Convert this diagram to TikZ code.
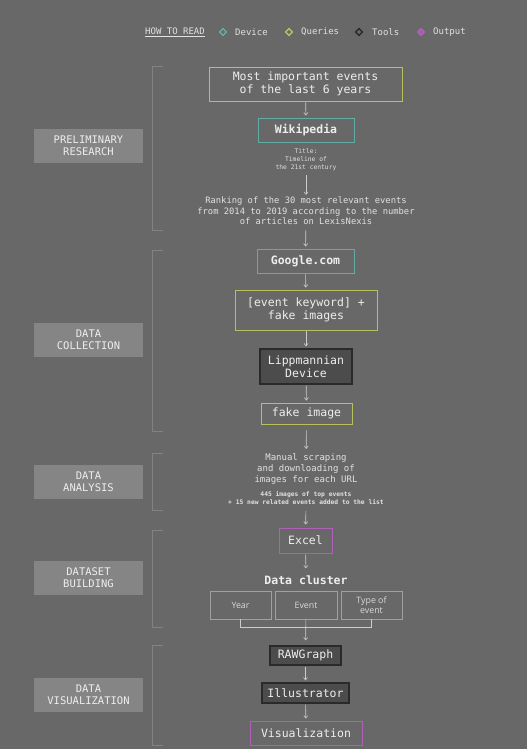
\documentclass[tikz,border=0pt]{standalone}
\usepackage{fontspec}
\usetikzlibrary{arrows.meta,shapes.geometric}
\newfontfamily\mono{DejaVu Sans Mono}
\newfontfamily\lsans{Open Sans}
\definecolor{bg}{HTML}{686868}
\definecolor{secfill}{HTML}{858585}
\definecolor{txt}{HTML}{EEEEEE}
\definecolor{qy}{HTML}{B8BF5E}
\definecolor{dev}{HTML}{62ACA6}
\definecolor{outc}{HTML}{B060B8}
\definecolor{toolfill}{HTML}{4C4C4C}
\definecolor{tooldraw}{HTML}{2A2A2A}
\definecolor{arrc}{HTML}{CCCCCC}
\definecolor{brk}{HTML}{828282}
\definecolor{clbox}{HTML}{A0A0A0}
\tikzset{
  box/.style={draw, line width=0.9pt, inner sep=0pt, align=center, text=txt,
    font=\mono\fontsize{11.5}{12.5}\selectfont},
  query/.style={box, draw=qy},
  devbox/.style={box, draw=dev, font=\mono\bfseries\fontsize{11.5}{12.5}\selectfont},
  toolbox/.style={box, draw=tooldraw, fill=toolfill, line width=1.2pt},
  outbox/.style={box, draw=outc},
  clbx/.style={draw=clbox, line width=0.8pt, inner sep=0pt, align=center, text=txt!85!bg,
    minimum width=61pt, minimum height=28pt, font=\lsans\fontsize{8.8}{9.8}\selectfont},
  sect/.style={fill=secfill, minimum width=109pt, minimum height=34pt, inner sep=0pt,
    align=center, text=txt, font=\mono\fontsize{10.5}{12}\selectfont},
  note/.style={align=center, text=txt!90!bg, inner sep=0pt, font=\mono\fontsize{8.8}{10.5}\selectfont},
  tiny/.style={align=center, text=txt!90!bg, inner sep=0pt, font=\mono\fontsize{6.3}{8}\selectfont},
  arr/.style={draw=arrc, line width=0.6pt, -{Straight Barb[length=2.5pt,width=4pt]}, shorten >=2pt, shorten <=1pt},
  brkline/.style={draw=brk, line width=1pt},
  leg/.style={text=txt!90!bg, inner sep=0pt, anchor=west, font=\mono\fontsize{9}{10}\selectfont},
  legd/.style={diamond, draw=#1, line width=1.4pt, fill=bg, inner sep=0pt, minimum size=7.5pt}
}
\begin{document}
\begin{tikzpicture}[x=1pt,y=-1pt]
\fill[bg] (0,0) rectangle (527,749);
\useasboundingbox (0,0) rectangle (527,749);

% legend
\node[leg, anchor=center] (howto) at (175,32) {\underline{HOW TO READ}};
\node[legd=dev] (ld) at (223,32) {};
\node[leg] (lt1) at (235,32) {Device};
\node[legd=qy] (lq) at (289,32) {};
\node[leg] (lt2) at (301,32) {Queries};
\node[legd=tooldraw] (lto) at (359,32) {};
\node[leg] (lt3) at (372,32) {Tools};
\node[legd=outc, fill=outc!70!bg] (lo) at (421,32) {};
\node[leg] (lt4) at (433,32) {Output};

% brackets
\draw[brkline] (163,67) -- (152,67) -- (152,230) -- (163,230);
\draw[brkline] (163,250) -- (152,250) -- (152,431) -- (163,431);
\draw[brkline] (163,453) -- (152,453) -- (152,510) -- (163,510);
\draw[brkline] (163,530) -- (152,530) -- (152,627) -- (163,627);
\draw[brkline] (163,645) -- (152,645) -- (152,745) -- (163,745);

% section labels
\node[sect] (s1) at (88.5,146) {PRELIMINARY\\RESEARCH};
\node[sect] (s2) at (88.5,340) {DATA\\COLLECTION};
\node[sect] (s3) at (88.5,482) {DATA\\ANALYSIS};
\node[sect] (s4) at (88.5,578) {DATASET\\BUILDING};
\node[sect] (s5) at (88.5,695) {DATA\\VISUALIZATION};

% flow
\node[query, minimum width=193pt, minimum height=34pt] (most) at (305.5,84) {Most important events\\of the last 6 years};
\node[devbox, minimum width=96pt, minimum height=24pt] (wiki) at (306,130) {Wikipedia};
\node[tiny] (title) at (306,159.5) {Title:\\Timeline of\\the 21st century};
\node[note] (rank) at (306,211) {Ranking of the 30 most relevant events\\from 2014 to 2019 according to the number\\of articles on LexisNexis};
\node[devbox, minimum width=97pt, minimum height=24pt] (google) at (305.5,261) {Google.com};
\node[query, minimum width=142pt, minimum height=40pt] (kw) at (306,310) {[event keyword] +\\fake images};
\node[toolbox, minimum width=92pt, minimum height=35pt] (lipp) at (306,366.5) {Lippmannian\\Device};
\node[query, minimum width=91pt, minimum height=21pt] (fake) at (306.5,413.5) {fake image};
\node[note, font=\mono\fontsize{9}{11}\selectfont] (manual) at (306,469.5) {Manual scraping\\and downloading of\\images for each URL};
\node[tiny, font=\mono\bfseries\fontsize{6.3}{8}\selectfont] (count) at (306,498) {445 images of top events\\+ 15 new related events added to the list};
\node[outbox, minimum width=53pt, minimum height=25pt] (excel) at (305.5,540.5) {Excel};
\node[inner sep=0pt, text=txt, font=\mono\bfseries\fontsize{11.5}{12.5}\selectfont] (cluster) at (306,580) {Data cluster};
\node[clbx] (year) at (240.5,605) {Year};
\node[clbx, minimum width=62pt] (event) at (306,605) {Event};
\node[clbx] (type) at (371.5,605) {Type of\\event};
\coordinate (yj) at (240.5,627);
\node[toolbox, minimum width=71pt, minimum height=19pt] (raw) at (305.5,655.5) {RAWGraph};
\node[toolbox, minimum width=87pt, minimum height=20pt] (ill) at (305.5,693) {Illustrator};
\node[outbox, minimum width=112pt, minimum height=24pt] (vis) at (306,733) {Visualization};

\draw[arr] (most) -- (wiki);
\draw[arr, shorten <=4pt, shorten >=2pt] (title) -- (rank);
\draw[arr, shorten <=5pt, shorten >=2pt] (rank) -- (google);
\draw[arr] (google) -- (kw);
\draw[arr] (kw) -- (lipp);
\draw[arr] (lipp) -- (fake);
\draw[arr, shorten <=6pt, shorten >=5pt] (fake) -- (manual);
\draw[arr, shorten <=6pt, shorten >=3pt] (count) -- (excel);
\draw[arr, shorten >=7pt] (excel) -- (cluster);
\draw[draw=arrc, line width=0.6pt] (year.south) -- (yj) -| (type.south);
\draw[arr, shorten <=0pt, shorten >=5pt] (event) -- (raw);
\draw[arr] (raw) -- (ill);
\draw[arr] (ill) -- (vis);
\end{tikzpicture}
\end{document}
